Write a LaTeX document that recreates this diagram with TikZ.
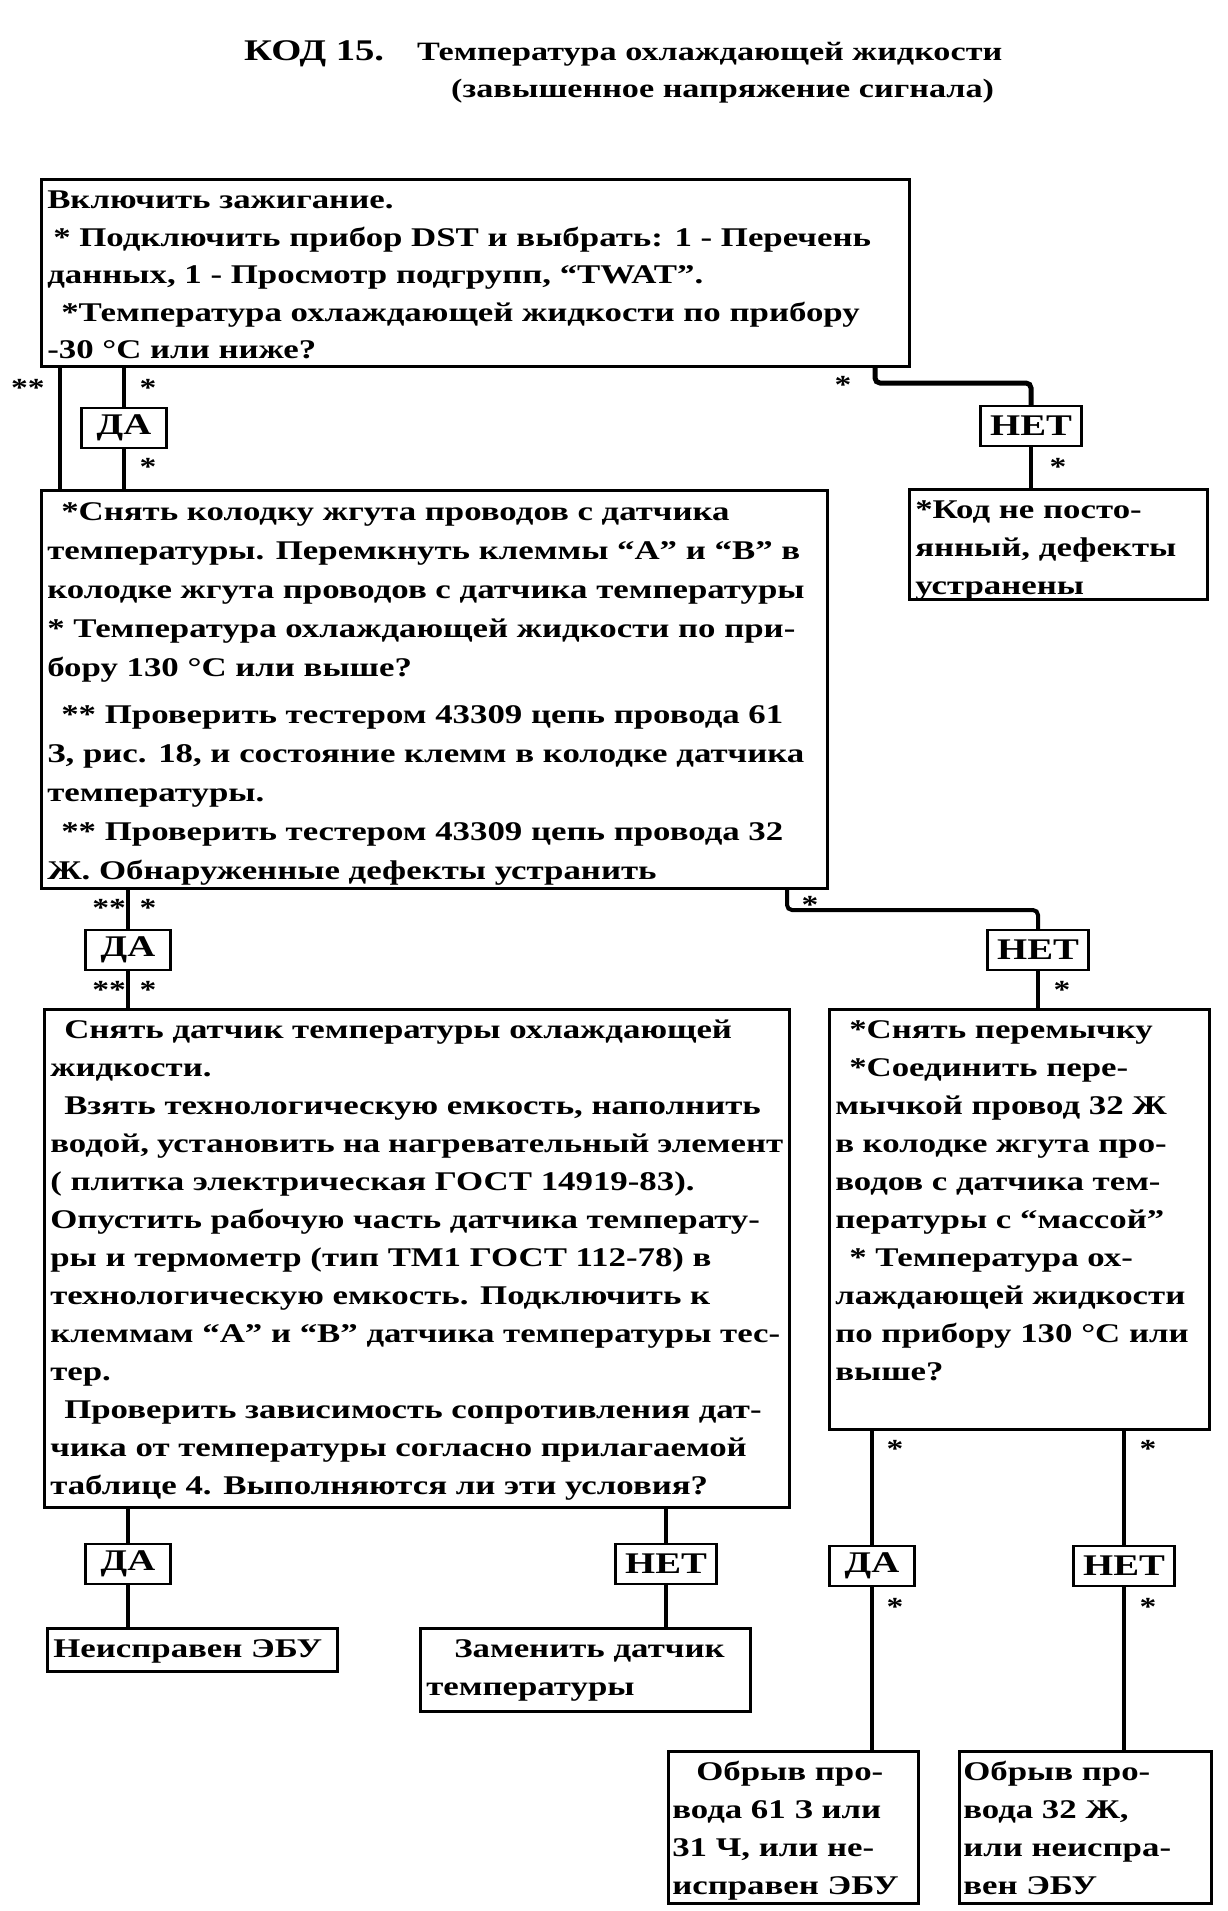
\documentclass[tikz,border=0pt]{standalone}
\usepackage{fontspec}
\setmainfont{Liberation Serif}[FakeStretch=1.29]
\usetikzlibrary{calc}

% text block of a fixed size inside a box
\newcommand{\boxtxt}[3]{\parbox[t][#2][t]{#1}{\raggedright\strut #3}}
\newcommand{\ind}{\hspace*{14pt}}

\begin{document}
\begin{tikzpicture}[x=1pt, y=-1pt,
  blk/.style={draw, line width=2.5pt, anchor=north west, inner xsep=6pt, inner ysep=3pt,
    font=\bfseries\fontsize{27}{38}\selectfont},
  ans/.style={draw, line width=2.5pt, inner sep=2pt, minimum height=40pt,
    font=\bfseries\fontsize{30}{30}\selectfont},
  yes/.style={ans, minimum width=85pt},
  no/.style={ans, minimum width=101pt},
  link/.style={line width=4pt},
  star/.style={inner sep=0pt, font=\bfseries\fontsize{26}{26}\selectfont},
  ttl/.style={anchor=base west, inner sep=0pt},
]
\useasboundingbox (0,0) rectangle (1228,1911);

% title
\node[ttl, font=\bfseries\fontsize{30}{34}\selectfont] (kod) at (244,61) {КОД 15.};
\node[ttl, font=\bfseries\fontsize{26.5}{32}\selectfont] (ttl1) at (417,60) {Температура охлаждающей жидкости};
\node[ttl, font=\bfseries\fontsize{26.5}{32}\selectfont] (ttl2) at (451,97) {(завышенное напряжение сигнала)};

% boxes
\node[blk, font=\bfseries\fontsize{27}{37.5}\selectfont] (b1) at (40,178) {\boxtxt{856pt}{181pt}{Включить зажигание.\\
  \hspace*{6pt}* Подключить прибор DST и выбрать: 1 - Перечень\\
  данных, 1 - Просмотр подгрупп, “TWAT”.\\
  \ind*Температура охлаждающей жидкости по прибору\\
  -30 °С или ниже?}};
\node[blk, font=\bfseries\fontsize{27}{39}\selectfont] (b2) at (40,489) {\boxtxt{774pt}{392pt}{\ind*Снять колодку жгута проводов с датчика\\
  температуры. Перемкнуть клеммы “А” и “В” в\\
  колодке жгута проводов с датчика температуры\\
  {}* Температура охлаждающей жидкости по при-\\
  бору 130 °С или выше?\\[8pt]
  \ind** Проверить тестером 43309 цепь провода 61\\
  З, рис. 18, и состояние клемм в колодке датчика\\
  температуры.\\
  \ind** Проверить тестером 43309 цепь провода 32\\
  Ж. Обнаруженные дефекты устранить}};
\node[blk] (bk) at (908,488) {\boxtxt{286pt}{104pt}{*Код не посто-\\
  янный, дефекты\\
  устранены}};
\node[blk] (b3) at (43,1008) {\boxtxt{733pt}{492pt}{\ind Снять датчик температуры охлаждающей\\
  жидкости.\\
  \ind Взять технологическую емкость, наполнить\\
  водой, установить на нагревательный элемент\\
  ( плитка электрическая ГОСТ 14919-83).\\
  Опустить рабочую часть датчика температу-\\
  ры и термометр (тип ТМ1 ГОСТ 112-78) в\\
  технологическую емкость. Подключить к\\
  клеммам “А” и “В” датчика температуры тес-\\
  тер.\\
  \ind Проверить зависимость сопротивления дат-\\
  чика от температуры согласно прилагаемой\\
  таблице 4. Выполняются ли эти условия?}};
\node[blk] (b4) at (828,1008) {\boxtxt{368pt}{414pt}{\ind*Снять перемычку\\
  \ind*Соединить пере-\\
  мычкой провод 32 Ж\\
  в колодке жгута про-\\
  водов с датчика тем-\\
  пературы с “массой”\\
  \ind* Температура ох-\\
  лаждающей жидкости\\
  по прибору 130 °С или\\
  выше?}};
\node[blk] (ecu) at (46,1627) {\boxtxt{278pt}{37pt}{Неисправен ЭБУ}};
\node[blk] (repl) at (419,1627) {\boxtxt{318pt}{77pt}{\hspace*{28pt}Заменить датчик\\
  температуры}};
\node[blk, inner xsep=4pt] (br1) at (667,1750) {\boxtxt{242pt}{146pt}{\hspace*{24pt}Обрыв про-\\
  вода 61 З или\\
  31 Ч, или не-\\
  исправен ЭБУ}};
\node[blk, inner xsep=4pt] (br2) at (958,1750) {\boxtxt{244pt}{146pt}{Обрыв про-\\
  вода 32 Ж,\\
  или неиспра-\\
  вен ЭБУ}};

% answers
\node[yes] (da1) at (124,428) {ДА};
\node[no] (n1) at (1031,426) {НЕТ};
\node[yes] (da2) at (128,950) {ДА};
\node[no] (n2) at (1038,950) {НЕТ};
\node[yes] (da3) at (128,1564) {ДА};
\node[no] (n3) at (666,1564) {НЕТ};
\node[yes] (da4) at (872,1566) {ДА};
\node[no] (n4) at (1124,1566) {НЕТ};

% connectors
\coordinate (lp) at (60,0);
\coordinate (k1) at (875,383);
\coordinate (k2) at (787,910);
\draw[link] (b1.south -| lp) -- (b2.north -| lp);
\draw[link] (b1.south -| da1) -- (da1) -- (b2.north -| da1);
\draw[link, line width=5pt, rounded corners=5pt] (b1.south -| k1) -- (k1) -| (n1);
\draw[link] (n1) -- (bk.north -| n1);
\draw[link] (b2.south -| da2) -- (da2) -- (b3.north -| da2);
\draw[link, rounded corners=5pt] (b2.south -| k2) -- (k2) -| (n2);
\draw[link] (n2) -- (b4.north -| n2);
\draw[link] (b3.south -| da3) -- (da3) -- (ecu.north -| da3);
\draw[link] (b3.south -| n3) -- (n3) -- (repl.north -| n3);
\draw[link] (b4.south -| da4) -- (da4) -- (br1.north -| da4);
\draw[link] (b4.south -| n4) -- (n4) -- (br2.north -| n4);

% stars
\node[star] (s1) at (28,388) {**};
\node[star] (s2) at (148,388) {*};
\node[star] (s3) at (148,467) {*};
\node[star] (s4) at (843,385) {*};
\node[star] (s5) at (1058,467) {*};
\node[star, anchor=east] (s6) at (126,908) {**};
\node[star] (s7) at (148,908) {*};
\node[star, anchor=east] (s8) at (126,990) {**};
\node[star] (s9) at (148,990) {*};
\node[star] (s10) at (810,905) {*};
\node[star] (s11) at (1062,990) {*};
\node[star] (s12) at (895,1449) {*};
\node[star] (s13) at (895,1607) {*};
\node[star] (s14) at (1148,1449) {*};
\node[star] (s15) at (1148,1607) {*};
\end{tikzpicture}
\end{document}
